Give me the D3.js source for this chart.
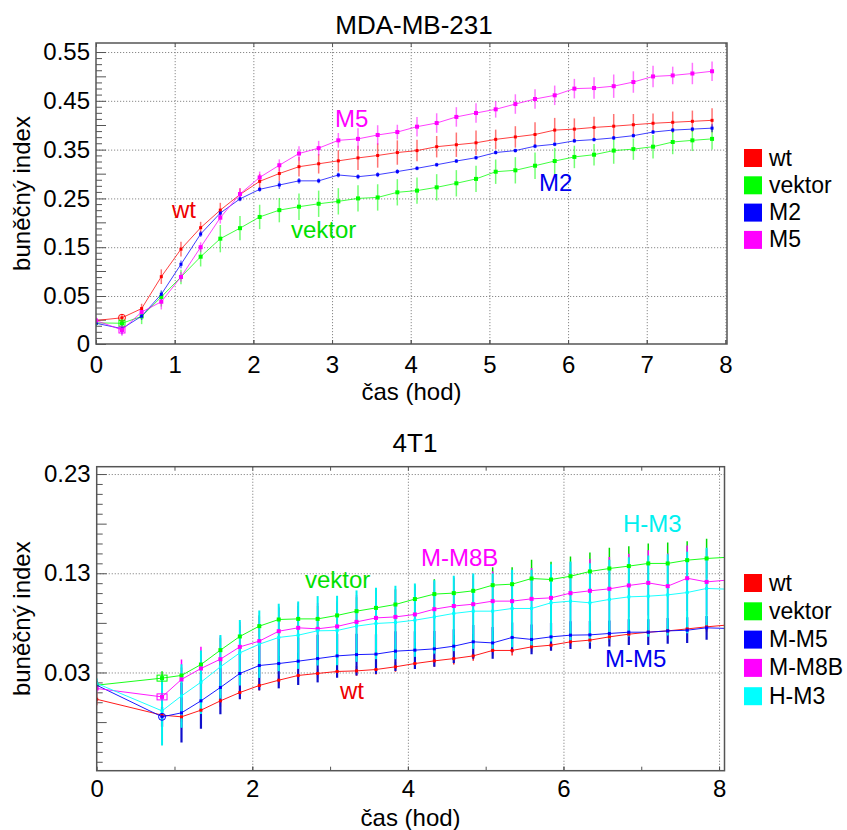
<!DOCTYPE html>
<html><head><meta charset="utf-8">
<script src="https://cdn.jsdelivr.net/npm/d3@7/dist/d3.min.js"></script>
<style>body{margin:0;background:#fff}text{font-family:"Liberation Sans",Arial,sans-serif}</style>
</head><body>
<svg id="chart" width="847" height="830"></svg>
<script>
// ---------------- DATA: MDA-MB-231 ----------------
const timesTop = [0,0.33,0.58,0.83,1.08,1.33,1.58,1.83,2.08,2.33,2.58,2.83,3.08,3.33,3.58,3.83,4.08,4.33,4.58,4.83,5.08,5.33,5.58,5.83,6.08,6.33,6.58,6.83,7.08,7.33,7.58,7.83];
const topNames = ["wt","vektor","M2","M5"];
const wtTop = [0.0245,0.0273,0.0369,0.0896,0.146,0.190,0.226,0.258,0.285,0.301,0.315,0.321,0.327,0.333,0.338,0.344,0.348,0.356,0.360,0.364,0.371,0.376,0.381,0.390,0.392,0.3955,0.398,0.401,0.404,0.406,0.408,0.410];
const vektorTop = [0.022,0.0216,0.0287,0.049,0.089,0.1305,0.1675,0.189,0.212,0.226,0.233,0.239,0.244,0.250,0.252,0.2625,0.266,0.2727,0.281,0.290,0.3047,0.3076,0.317,0.3266,0.335,0.3396,0.348,0.351,0.356,0.3656,0.369,0.372];
const m2Top = [0.0216,0.016,0.029,0.0535,0.115,0.177,0.220,0.249,0.2686,0.2775,0.286,0.286,0.298,0.2945,0.2986,0.305,0.3117,0.319,0.3266,0.3334,0.344,0.348,0.357,0.361,0.368,0.3705,0.374,0.3786,0.386,0.390,0.392,0.394];
const m5Top = [0.0245,0.0146,0.0333,0.044,0.089,0.150,0.2105,0.259,0.293,0.318,0.342,0.353,0.369,0.372,0.380,0.386,0.397,0.4045,0.417,0.425,0.4326,0.4434,0.4537,0.4613,0.475,0.4762,0.480,0.4885,0.500,0.502,0.506,0.5106];
const wtTopErr = [0.003,0.004,0.005,0.015,0.015,0.012,0.015,0.013,0.015,0.015,0.02,0.02,0.022,0.025,0.025,0.025,0.022,0.022,0.025,0.025,0.02,0.022,0.025,0.025,0.022,0.022,0.025,0.022,0.02,0.022,0.022,0.025];
const vektorTopErr = [0.004,0.006,0.008,0.01,0.015,0.02,0.028,0.025,0.025,0.025,0.027,0.027,0.027,0.027,0.027,0.027,0.027,0.027,0.027,0.027,0.025,0.027,0.027,0.027,0.023,0.022,0.027,0.022,0.024,0.025,0.022,0.022];
const m2TopErr = [0.003,0.006,0.004,0.008,0.008,0.006,0.006,0.005,0.005,0.008,0.006,0.005,0.005,0.005,0.005,0.005,0.004,0.004,0.004,0.004,0.004,0.004,0.004,0.004,0.004,0.004,0.004,0.004,0.004,0.004,0.004,0.008];
const m5TopErr = [0.003,0.006,0.005,0.008,0.01,0.01,0.012,0.012,0.012,0.012,0.015,0.015,0.015,0.022,0.02,0.015,0.02,0.02,0.02,0.02,0.017,0.02,0.02,0.02,0.02,0.022,0.024,0.022,0.022,0.018,0.022,0.02];
const topYTicks = [0,0.05,0.15,0.25,0.35,0.45,0.55];
const topXTicks = [0,1,2,3,4,5,6,7,8];

// ---------------- DATA: 4T1 ----------------
const timesBot = [0,0.84,1.09,1.34,1.59,1.84,2.09,2.34,2.59,2.84,3.09,3.34,3.59,3.84,4.09,4.34,4.59,4.84,5.09,5.34,5.59,5.84,6.09,6.34,6.59,6.84,7.09,7.34,7.59,7.84,8.09];
const botNames = ["wt","vektor","M-M5","M-M8B","H-M3"];
const wtBot = [0.003,-0.013,-0.0147,-0.008,0.0014,0.0098,0.0169,0.0222,0.027,0.029,0.031,0.0316,0.033,0.0357,0.039,0.0417,0.044,0.0467,0.0522,0.0522,0.0558,0.0575,0.0609,0.0626,0.0659,0.0686,0.0706,0.0719,0.0739,0.076,0.0777];
const vektorBot = [0.0172,0.0243,0.027,0.038,0.0525,0.0663,0.0767,0.0834,0.084,0.084,0.0875,0.0918,0.0951,0.0985,0.104,0.109,0.110,0.1123,0.118,0.119,0.1247,0.1237,0.127,0.1318,0.1348,0.1372,0.1399,0.1399,0.1432,0.1449,0.146];
const mm5Bot = [0.0172,-0.0147,-0.0107,0.0014,0.0149,0.029,0.037,0.039,0.0414,0.044,0.0467,0.048,0.0485,0.0515,0.0525,0.0538,0.0565,0.0609,0.0598,0.0653,0.0633,0.0659,0.0676,0.0679,0.0693,0.0706,0.0706,0.0719,0.0726,0.075,0.0744];
const mm8bBot = [0.0139,0.0054,0.023,0.034,0.0434,0.0558,0.0616,0.0716,0.075,0.074,0.0764,0.081,0.085,0.086,0.0885,0.0938,0.097,0.0988,0.1019,0.1019,0.1042,0.1052,0.110,0.1123,0.1143,0.1177,0.1203,0.117,0.125,0.1213,0.123];
const hm3Bot = [0.019,-0.0087,0.0064,0.0202,0.0357,0.0498,0.0585,0.0653,0.0676,0.072,0.0723,0.0767,0.0794,0.0804,0.0827,0.086,0.0895,0.0918,0.0918,0.0945,0.0945,0.1002,0.1019,0.1002,0.1036,0.1062,0.1069,0.1082,0.1106,0.1147,0.114];
const wtBotErr = [0.006,0.004,0.005,0.006,0.006,0.006,0.005,0.005,0.005,0.005,0.005,0.005,0.005,0.005,0.005,0.006,0.006,0.005,0.005,0.005,0.005,0.005,0.005,0.005,0.005,0.005,0.005,0.005,0.005,0.005,0.005];
const vektorBotErr = [0.004,0.007,0.008,0.01,0.012,0.011,0.011,0.012,0.013,0.013,0.013,0.014,0.014,0.015,0.014,0.015,0.015,0.015,0.018,0.017,0.019,0.018,0.02,0.019,0.021,0.02,0.02,0.021,0.019,0.02,0.02];
const mm5BotErr = [0.004,0.01,0.03,0.028,0.027,0.026,0.025,0.025,0.024,0.024,0.022,0.021,0.02,0.02,0.019,0.018,0.017,0.017,0.016,0.015,0.015,0.014,0.014,0.014,0.013,0.013,0.013,0.013,0.013,0.012,0.012];
const mm8bBotErr = [0.004,0.006,0.02,0.022,0.023,0.025,0.025,0.025,0.025,0.026,0.026,0.027,0.027,0.028,0.028,0.028,0.029,0.03,0.03,0.03,0.031,0.031,0.031,0.032,0.032,0.032,0.033,0.033,0.033,0.033,0.033];
const hm3BotErr = [0.005,0.035,0.032,0.032,0.032,0.033,0.034,0.034,0.034,0.035,0.035,0.036,0.036,0.037,0.037,0.037,0.038,0.038,0.038,0.039,0.039,0.039,0.04,0.04,0.04,0.04,0.041,0.041,0.041,0.041,0.041];
const botYTicks = [0.03,0.13,0.23];
const botXTicks = [0,2,4,6,8];

// ---------------- DRAWING ----------------
const svg = d3.select("#chart");
const FONT = '"Liberation Sans", Arial, sans-serif';
const AX = "#555";

function drawPanel(cfg){
  const g = svg.append("g");
  const {x, y, yLin} = cfg;
  const [x0, x1] = x.range();
  const [yb, yt] = y.range().length === 2 ? y.range() : [y.range()[0], y.range()[y.range().length-1]];
  const W = x1 - x0, H = yb - yt;
  const clipId = cfg.id + "clip";
  svg.append("defs").append("clipPath").attr("id", clipId)
    .append("rect").attr("x", x0).attr("y", yt).attr("width", W).attr("height", H);

  // grid
  const gy = g.append("g").attr("transform", `translate(${x0},0)`)
    .call(d3.axisLeft(y).tickValues(cfg.yGrid).tickSize(-W).tickFormat(""));
  const gx = g.append("g").attr("transform", `translate(0,${yb})`)
    .call(d3.axisBottom(x).tickValues(cfg.xGrid).tickSize(H).tickFormat(""))
    .attr("transform", `translate(0,${yt})`);
  [gy, gx].forEach(a => {
    a.select(".domain").remove();
    a.selectAll("line").attr("stroke", "#8a8a8a").attr("stroke-width", 1).attr("stroke-dasharray", "1.2,1.8");
  });

  // minor ticks (left)
  const mt = g.append("g").attr("transform", `translate(${x0},0)`)
    .call(d3.axisLeft(yLin).tickValues(cfg.minorTicks).tickSize(-6).tickFormat(""));
  mt.select(".domain").remove();
  mt.selectAll("line").attr("stroke", AX).attr("stroke-width", 1);
  const md = g.append("g").attr("transform", `translate(${x0},0)`)
    .call(d3.axisLeft(yLin).tickValues(cfg.midTicks).tickSize(-10).tickFormat(""));
  md.select(".domain").remove();
  md.selectAll("line").attr("stroke", AX).attr("stroke-width", 1);

  // y axis major ticks + labels
  const ya = g.append("g").attr("transform", `translate(${x0},0)`)
    .call(d3.axisLeft(y).tickValues(cfg.yTicks).tickSize(-10).tickPadding(6).tickFormat(d => cfg.yFmt(d)));
  ya.select(".domain").remove();
  ya.selectAll("line").attr("stroke", AX).attr("stroke-width", 1);
  ya.selectAll("text").attr("font-size", 24).attr("font-family", FONT).attr("fill", "#000");

  // x axis
  const xa = g.append("g").attr("transform", `translate(0,${yb})`)
    .call(d3.axisBottom(x).tickValues(cfg.xTicks).tickSize(-4).tickPadding(cfg.xPad).tickFormat(d3.format("d")));
  xa.select(".domain").remove();
  xa.selectAll("line").attr("stroke", AX);
  xa.selectAll("text").attr("font-size", 24).attr("font-family", FONT).attr("fill", "#000");
  const xt = g.append("g").attr("transform", `translate(0,${yt})`)
    .call(d3.axisTop(x).tickValues(cfg.xMinor).tickSize(-4).tickFormat(""));
  xt.select(".domain").remove();
  xt.selectAll("line").attr("stroke", AX);
  const xb2 = g.append("g").attr("transform", `translate(0,${yb})`)
    .call(d3.axisBottom(x).tickValues(cfg.xMinor).tickSize(-4).tickFormat(""));
  xb2.select(".domain").remove();
  xb2.selectAll("line").attr("stroke", AX);

  // data
  const pg = g.append("g").attr("clip-path", `url(#${clipId})`);
  const line = d3.line().x((d,i) => x(cfg.times[i])).y(d => y(d));
  // error bars
  cfg.series.forEach(s => {
    pg.append("g").selectAll("line").data(s.values).join("line")
      .attr("x1", (d,i) => x(cfg.times[i])).attr("x2", (d,i) => x(cfg.times[i]))
      .attr("y1", (d,i) => y(d - s.errors[i])).attr("y2", (d,i) => y(d + s.errors[i]))
      .attr("stroke", s.barColor || s.color).attr("stroke-width", s.barW).attr("stroke-opacity", s.barOp);
  });
  cfg.series.forEach(s => {
    pg.append("path").datum(s.values).attr("d", line).attr("fill", "none")
      .attr("stroke", s.color).attr("stroke-width", 1).attr("stroke-opacity", s.lineOp);
    pg.append("g").selectAll("rect").data(s.values).join("rect")
      .attr("x", (d,i) => x(cfg.times[i]) - s.ms/2).attr("y", d => y(d) - s.ms/2)
      .attr("width", s.ms).attr("height", s.ms).attr("fill", s.color);
    if (s.hollow) {
      const d = s.values[1], cx = x(cfg.times[1]), cy = y(d);
      if (s.hollow === "circle") {
        pg.append("circle").attr("cx", cx).attr("cy", cy).attr("r", 3.5)
          .attr("fill", "none").attr("stroke", s.color).attr("stroke-width", 1);
      } else {
        pg.append("rect").attr("x", cx - s.hw/2).attr("y", cy - s.hh/2).attr("width", s.hw).attr("height", s.hh)
          .attr("fill", "none").attr("stroke", s.color).attr("stroke-width", 1);
      }
    }
  });

  // frame
  g.append("rect").attr("x", x0).attr("y", yt).attr("width", W).attr("height", H)
    .attr("fill", "none").attr("stroke", AX).attr("stroke-width", 1.5);

  // titles
  g.append("text").attr("x", cfg.titleX).attr("y", cfg.titleY).attr("text-anchor", "middle")
    .attr("font-size", 26).attr("font-family", FONT).text(cfg.title);
  g.append("text").attr("x", (x0 + x1) / 2).attr("y", cfg.xLabelY).attr("text-anchor", "middle")
    .attr("font-size", 24).attr("font-family", FONT).text("čas (hod)");
  g.append("text").attr("transform", `translate(30,${(yt + yb) / 2}) rotate(-90)`).attr("text-anchor", "middle")
    .attr("font-size", 24).attr("font-family", FONT).text("buněčný index");

  // annotations
  cfg.notes.forEach(n => {
    g.append("text").attr("x", n.x).attr("y", n.y).attr("fill", n.color)
      .attr("font-size", 24).attr("font-family", FONT).text(n.text);
  });

  // legend
  cfg.series.forEach((s, i) => {
    const ly = cfg.legY + i * cfg.legStep;
    g.append("rect").attr("x", 744).attr("y", ly).attr("width", 18).attr("height", 18).attr("fill", s.color);
    g.append("text").attr("x", 769).attr("y", ly + 16.5).attr("font-size", 23).attr("font-family", FONT).text(s.name);
  });
}

// scales, top
const xTop = d3.scaleLinear().domain([0, 8.02]).range([96, 727]);
const yTop = d3.scaleLinear().domain([0, 0.05, 0.5685]).range([344, 296, 43]);
const yTopLin = d3.scaleLinear().domain([-0.05, 0.5685]).range([344, 43]);
const topMinor = d3.range(-0.05 + 0.0125, 0.56, 0.0125).filter(v => Math.abs(((v + 0.05) / 0.05) - Math.round((v + 0.05) / 0.05)) > 1e-6);
const topMid = [0, 0.1, 0.2, 0.3, 0.4, 0.5];
const colTop = ["#ff0000", "#00ff00", "#0000ff", "#ff00ff"];
const valsTop = [wtTop, vektorTop, m2Top, m5Top];
const errsTop = [wtTopErr, vektorTopErr, m2TopErr, m5TopErr];
const topHollow = [["circle",0,0], ["rect",6,6], [null], ["rect",6,6]];
const topMs = [3, 4, 3, 4];

drawPanel({
  id: "top", x: xTop, y: yTop, yLin: yTopLin, times: timesTop,
  yTicks: topYTicks, yFmt: d => d === 0 ? "0" : d3.format(".2f")(d),
  yGrid: topYTicks.filter(v => v > 0), xGrid: topXTicks.filter(v => v > 0),
  minorTicks: topMinor, midTicks: topMid,
  xTicks: topXTicks, xMinor: topXTicks, xPad: 12,
  title: "MDA-MB-231", titleX: 414, titleY: 34, xLabelY: 400,
  series: topNames.map((n, i) => ({name: n, color: colTop[i], values: valsTop[i], errors: errsTop[i],
    barW: 1.5, barOp: 0.55, lineOp: 0.75, ms: topMs[i], hollow: topHollow[i][0], hw: topHollow[i][1], hh: topHollow[i][2]})),
  notes: [
    {text: "wt", x: 172, y: 218, color: "#ee0000"},
    {text: "vektor", x: 291, y: 238, color: "#00e000"},
    {text: "M5", x: 335, y: 127, color: "#ff00ff"},
    {text: "M2", x: 539, y: 191, color: "#0000ee"}
  ],
  legY: 149, legStep: 27.3
});

// scales, bottom
const xBot = d3.scaleLinear().domain([0, 8.07]).range([96.7, 724.5]);
const yBot = d3.scaleLinear().domain([-0.069, 0.2374]).range([770.7, 466.7]);
const botMinor = d3.range(-0.06, 0.235, 0.01).map(v => +v.toFixed(3)).filter(v => Math.abs(((v - 0.03) / 0.05) - Math.round((v - 0.03) / 0.05)) > 1e-6);
const botMid = [-0.02, 0.08, 0.18];
const colBot = ["#ff0000", "#00ff00", "#0000ff", "#ff00ff", "#00ffff"];
const barColBot = ["#ff2020", "#00dd00", "#1010cc", "#ff00ff", "#00f0f0"];
const valsBot = [wtBot, vektorBot, mm5Bot, mm8bBot, hm3Bot];
const errsBot = [wtBotErr, vektorBotErr, mm5BotErr, mm8bBotErr, hm3BotErr];
const botHollow = [[null], ["rect",10,6], ["circle",0,0], ["rect",10,6], [null]];
const botMs = [3, 4, 3, 4, 3];
const botBarW = [1.5, 1.5, 2.2, 1.5, 2];

drawPanel({
  id: "bot", x: xBot, y: yBot, yLin: yBot, times: timesBot,
  yTicks: botYTicks, yFmt: d3.format(".2f"),
  yGrid: botYTicks, xGrid: [2, 4, 6, 8],
  minorTicks: botMinor, midTicks: botMid,
  xTicks: botXTicks, xMinor: [1, 2, 3, 4, 5, 6, 7, 8], xPad: 9.5,
  title: "4T1", titleX: 415, titleY: 452, xLabelY: 826,
  series: botNames.map((n, i) => ({name: n, color: colBot[i], barColor: barColBot[i], values: valsBot[i], errors: errsBot[i],
    barW: botBarW[i], barOp: 1, lineOp: 0.9, ms: botMs[i], hollow: botHollow[i][0], hw: botHollow[i][1], hh: botHollow[i][2]})),
  notes: [
    {text: "vektor", x: 305, y: 588, color: "#00e000"},
    {text: "M-M8B", x: 421, y: 566, color: "#ff00ff"},
    {text: "wt", x: 340, y: 699, color: "#ee0000"},
    {text: "H-M3", x: 623, y: 532, color: "#00f0f0"},
    {text: "M-M5", x: 605, y: 667, color: "#0000ee"}
  ],
  legY: 574, legStep: 28.3
});
</script>
</body></html>
